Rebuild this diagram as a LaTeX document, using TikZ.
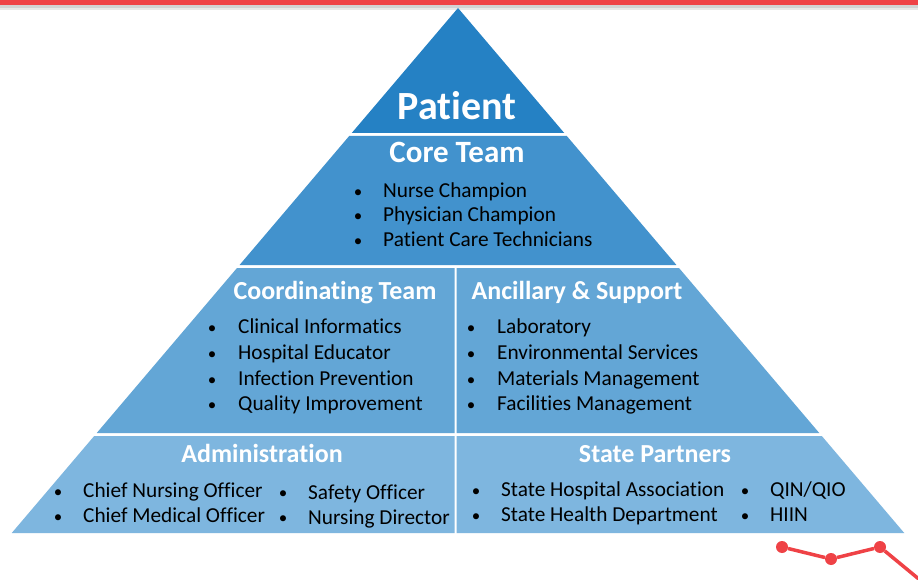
\documentclass[tikz,border=0pt]{standalone}
\usepackage{fontspec}
\setmainfont{Carlito}[Ligatures=CommonOff]
\newcommand\zk{\kern0pt }
\definecolor{tierA}{RGB}{37,129,196}
\definecolor{tierB}{RGB}{66,146,205}
\definecolor{tierC}{RGB}{99,166,214}
\definecolor{tierD}{RGB}{126,182,223}
\definecolor{redline}{RGB}{239,66,70}
\begin{document}
\begin{tikzpicture}[x=1pt,y=-1pt,
  head/.style={text=white,font=\fontsize{26}{30}\selectfont\bfseries,anchor=base},
  item/.style={text=black,font=\fontsize{21.3}{25}\selectfont,anchor=base west,inner sep=0pt},
  bul/.style={text=black,font=\fontsize{17}{20}\selectfont,anchor=base,inner sep=0pt},
  dot/.style={circle,fill=redline,minimum size=12pt,inner sep=0pt}]
\useasboundingbox (0,0) rectangle (918,580);
\fill[white] (0,0) rectangle (918,580);
% top bar
\fill[gray!35] (0,4) rectangle (918,8);
\fill[gray!18] (0,8) rectangle (918,10);
\fill[redline] (0,0) rectangle (918,5);
% tiers
\fill[tierA] (458,8) -- (564.25,133) -- (351.75,133) -- cycle;
\fill[tierB] (349.2,136) -- (566.8,136) -- (676.45,265) -- (239.55,265) -- cycle;
\fill[tierC] (237,268) -- (454.5,268) -- (454.5,433) -- (96.75,433) -- cycle;
\fill[tierC] (456.5,268) -- (679,268) -- (819.25,433) -- (456.5,433) -- cycle;
\fill[tierD] (94.2,436) -- (454.5,436) -- (454.5,533) -- (11.75,533) -- cycle;
\fill[tierD] (456.5,436) -- (821.8,436) -- (904.25,533) -- (456.5,533) -- cycle;
% texts
\node[text=white,font=\fontsize{40}{44}\selectfont\bfseries,anchor=base] (patient) at (457,120) {Pat\zk ient};
\node[text=white,font=\fontsize{31}{35}\selectfont\bfseries,anchor=base] (core) at (457,163) {Core Team};
\node[bul] (cb1) at (358,197) {•}; \node[item] (c1) at (383,197) {Nurse Champion};
\node[bul] (cb2) at (358,222) {•}; \node[item] (c2) at (383,222) {Physician Champion};
\node[bul] (cb3) at (358,247) {•}; \node[item] (c3) at (383,247) {Pat\zk ient Care Technicians};
\node[head] (coord) at (335,299) {Coordinat\zk ing Team};
\node[bul] (kb1) at (212,333) {•}; \node[item] (k1) at (238,333) {Clinical Informat\zk ics};
\node[bul] (kb2) at (212,359) {•}; \node[item] (k2) at (238,359) {Hospital Educator};
\node[bul] (kb3) at (212,385) {•}; \node[item] (k3) at (238,385) {Infect\zk ion Prevent\zk ion};
\node[bul] (kb4) at (212,410) {•}; \node[item] (k4) at (238,410) {Quality Improvement};
\node[head] (anc) at (577,299) {Ancillary \& Support};
\node[bul] (ab1) at (471,333) {•}; \node[item] (a1) at (497,333) {Laboratory};
\node[bul] (ab2) at (471,359) {•}; \node[item] (a2) at (497,359) {Environmental Services};
\node[bul] (ab3) at (471,385) {•}; \node[item] (a3) at (497,385) {Materials Management};
\node[bul] (ab4) at (471,410) {•}; \node[item] (a4) at (497,410) {Facilit\zk ies Management};
\node[head] (adm) at (262,462) {Administrat\zk ion};
\node[bul] (db1) at (58,497) {•}; \node[item] (d1) at (83,497) {Chief Nursing Of\zk f\zk icer};
\node[bul] (db2) at (58,522) {•}; \node[item] (d2) at (83,522) {Chief Medical Of\zk f\zk icer};
\node[bul] (db3) at (283,498) {•}; \node[item] (d3) at (308,499) {Safety Of\zk f\zk icer};
\node[bul] (db4) at (283,523) {•}; \node[item] (d4) at (308,524) {Nursing Director};
\node[head] (state) at (655,462) {State Partners};
\node[bul] (sb1) at (476,496) {•}; \node[item] (s1) at (501,496) {State Hospital Associat\zk ion};
\node[bul] (sb2) at (476,521) {•}; \node[item] (s2) at (501,521) {State Health Department};
\node[bul] (sb3) at (745,496) {•}; \node[item] (s3) at (770,496) {QIN/QIO};
\node[bul] (sb4) at (745,521) {•}; \node[item] (s4) at (770,521) {HIIN};
% red chart
\coordinate (pend) at (920,580);
\node[dot] (p1) at (782,547) {};
\node[dot] (p2) at (831,559) {};
\node[dot] (p3) at (880,547) {};
\draw[redline,line width=3.5pt] (p1) -- (p2) -- (p3) -- (pend);
\end{tikzpicture}
\end{document}
